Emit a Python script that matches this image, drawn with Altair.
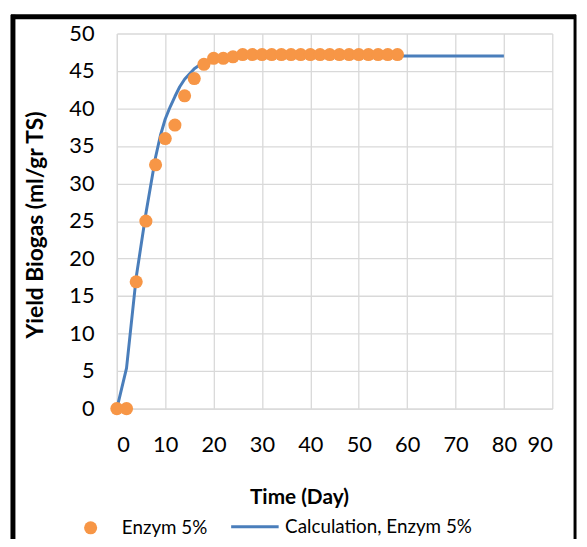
import altair as alt
import pandas as pd

# Observed data (Enzym 5%)
days_obs = [0, 2, 4, 6, 8, 10, 12, 14, 16, 18, 20, 22, 24, 26, 28, 30, 32, 34, 36, 38,
            40, 42, 44, 46, 48, 50, 52, 54, 56, 58]
yield_obs = [0, 0, 16.9, 25.0, 32.5, 36.0, 37.8, 41.7, 44.0, 45.9, 46.7, 46.7, 46.9, 47.2, 47.2,
             47.2, 47.2, 47.2, 47.2, 47.2, 47.2, 47.2, 47.2, 47.2, 47.2, 47.2, 47.2, 47.2, 47.2, 47.2]

# Calculated curve
days_calc = [0, 2, 4, 6, 8, 9, 10, 11, 12, 13, 14, 16, 18, 20, 22, 24, 26, 30, 40, 50, 60, 70, 80]
yield_calc = [0, 5.4, 17.5, 26.0, 33.5, 36.4, 38.6, 40.2, 41.6, 42.9, 43.9, 45.3, 46.2, 46.6,
              46.8, 46.9, 47.0, 47.0, 47.0, 47.0, 47.0, 47.0, 47.0]

x_ticks = [0, 10, 20, 30, 40, 50, 60, 70, 80, 90]
y_ticks = [0, 5, 10, 15, 20, 25, 30, 35, 40, 45, 50]

obs = pd.DataFrame({"day": days_obs, "yield": yield_obs, "series": "Enzym 5%"})
calc = pd.DataFrame({"day": days_calc, "yield": yield_calc, "series": "Calculation, Enzym 5%"})

FONT = "Lato"

x_enc = alt.X("day:Q", scale=alt.Scale(domain=[0, 90], nice=False),
              axis=alt.Axis(values=x_ticks, title="Time (Day)", grid=True,
                            titleX=184, titleY=90, titleBaseline="middle", titleAlign="center",
                            labelPadding=26, labelOverlap=False))
y_enc = alt.Y("yield:Q", scale=alt.Scale(domain=[0, 50], nice=False),
              axis=alt.Axis(values=y_ticks, title="Yield Biogas (ml/gr TS)", grid=True,
                            titleX=-82, titleY=193, titleBaseline="middle", titleAlign="center",
                            titleFontSize=23, labelPadding=23, labelOverlap=False))

line = alt.Chart(calc).mark_line(strokeWidth=3, interpolate="linear", strokeJoin="round").encode(
    x=x_enc, y=y_enc,
    stroke=alt.Stroke("series:N",
                      scale=alt.Scale(domain=["Calculation, Enzym 5%"], range=["#4a7ebb"]),
                      legend=alt.Legend(title=None, orient="none", legendX=114, legendY=473,
                                        symbolType="stroke", symbolSize=2304,
                                        symbolStrokeWidth=3, labelOffset=5, padding=0,
                                        labelLimit=400)),
)

points = alt.Chart(obs).mark_circle(size=175, opacity=1).encode(
    x=x_enc, y=y_enc,
    fill=alt.Fill("series:N",
                  scale=alt.Scale(domain=["Enzym 5%"], range=["#f79646"]),
                  legend=alt.Legend(title=None, orient="none", legendX=-36, legendY=490,
                                    symbolType="circle", symbolSize=175, symbolStrokeWidth=0,
                                    labelOffset=22, padding=0, labelLimit=400)),
)

frame_df = pd.DataFrame({"k": [0]})
left_b = alt.Chart(frame_df).mark_rule(color="black", strokeWidth=5).encode(
    x=alt.value(-105), y=alt.value(-19), y2=alt.value(520))
top_b = alt.Chart(frame_df).mark_rule(color="black", strokeWidth=5).encode(
    x=alt.value(-107), x2=alt.value(464), y=alt.value(-17))
right_b = alt.Chart(frame_df).mark_rule(color="black", strokeWidth=3).encode(
    x=alt.value(463), y=alt.value(-19), y2=alt.value(520))

chart = alt.layer(line, points, left_b, top_b, right_b).properties(
    width=440, height=379,
    autosize=alt.AutoSizeParams(type="none"),
    padding={"left": 110, "top": 23, "right": 27, "bottom": 129},
    background="white",
).configure_view(stroke=None).configure_axis(
    labelFont=FONT, titleFont=FONT, labelFontSize=22, titleFontSize=21,
    labelColor="black", titleColor="black", titleFontWeight="bold",
    gridColor="#d9d9d9", gridWidth=1.3, domainColor="#d9d9d9", domainWidth=1.3,
    ticks=False,
).configure_legend(
    labelFont=FONT, labelFontSize=19, labelColor="black",
)

chart.save("out.html", embed_options={"renderer": "svg", "actions": False})
